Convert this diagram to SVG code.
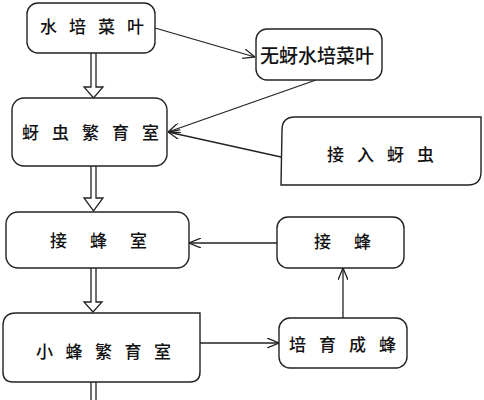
<svg xmlns="http://www.w3.org/2000/svg" width="484" height="400" viewBox="0 0 484 400">
<style>
.box{fill:#fff;stroke:#222;stroke-width:1.4}
.t{font-family:"Noto Sans CJK SC","Noto Sans",sans-serif;font-size:17px;font-weight:500;fill:#111}
.c{fill:none;stroke:#222;stroke-width:1.3}
.d{fill:#fff;stroke:#222;stroke-width:1.3;stroke-linejoin:miter}
</style>
<defs>
<marker id="ah" markerUnits="userSpaceOnUse" viewBox="0 0 12 10" refX="12" refY="5" markerWidth="12" markerHeight="10" orient="auto">
<path d="M0,0 L12,5 L0,10" fill="none" stroke="#222" stroke-width="1.3"/>
</marker>
</defs>
<rect width="484" height="400" fill="#fff"/>
<g id="connectors">
<path class="d" d="M91,53 L91,87 L84,87 L93.5,98 L103,87 L96,87 L96,53"/>
<path class="d" d="M91,166 L91,198 L84,198 L93.5,211 L103,198 L96,198 L96,166"/>
<path class="d" d="M91,268 L91,302 L84,302 L93,312 L102,302 L96,302 L96,268"/>
<path class="c" d="M91,382 L91,400 M96,382 L96,400"/>
<line class="c" x1="155" y1="28" x2="255" y2="57" marker-end="url(#ah)"/>
<line class="c" x1="316" y1="80" x2="168" y2="132" marker-end="url(#ah)"/>
<line class="c" x1="281" y1="157" x2="168" y2="132" marker-end="url(#ah)"/>
<line class="c" x1="277" y1="243" x2="189" y2="243" marker-end="url(#ah)"/>
<line class="c" x1="200" y1="343" x2="279" y2="343" marker-end="url(#ah)"/>
<line class="c" x1="343" y1="318" x2="343" y2="268" marker-end="url(#ah)"/>
</g>
<g id="n1"><rect class="box" x="27" y="3" width="128" height="50" rx="11"/><text class="t" x="40" y="33" letter-spacing="12">水培菜叶</text></g>
<g id="n2"><rect class="box" x="12" y="98" width="155" height="68" rx="12"/><text class="t" x="22" y="139" letter-spacing="13">蚜虫繁育室</text></g>
<g id="n3"><rect class="box" x="256" y="29" width="126" height="51" rx="11"/><text class="t" x="260" y="63" style="font-size:19px">无蚜水培菜叶</text></g>
<g id="n4"><path class="box" d="M282,130 Q282,117 295,117 L481,117 L481,172 Q481,185 468,185 L281,185 Z"/><text class="t" x="327" y="161" letter-spacing="13">接入蚜虫</text></g>
<g id="n5"><rect class="box" x="6" y="212" width="183" height="56" rx="12"/><text class="t" x="50" y="247" letter-spacing="23">接蜂室</text></g>
<g id="n6"><path class="box" d="M3,326 Q3,313 16,313 L200,313 L200,372 Q200,382 190,382 L13,382 Q3,382 3,372 Z"/><text class="t" x="36" y="358" letter-spacing="12.5">小蜂繁育室</text></g>
<g id="n7"><rect class="box" x="277" y="217" width="127" height="51" rx="11"/><text class="t" x="314" y="248" letter-spacing="23">接蜂</text></g>
<g id="n8"><rect class="box" x="279" y="318" width="128" height="50" rx="11"/><text class="t" x="289" y="351" letter-spacing="13">培育成蜂</text></g>
</svg>
